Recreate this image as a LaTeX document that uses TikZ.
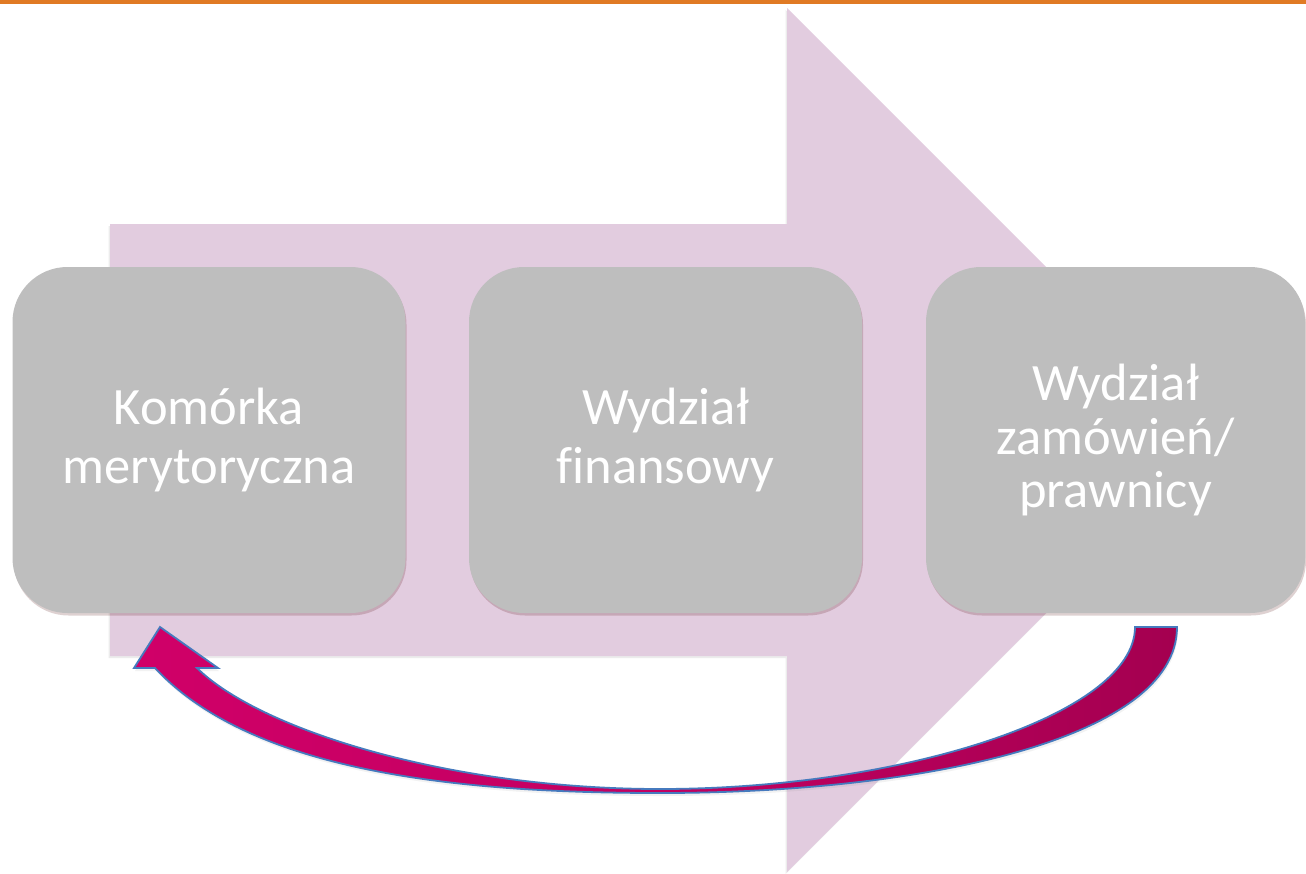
\documentclass[tikz,border=0pt]{standalone}
\usepackage{fontspec}
\setmainfont{Carlito}[Ligatures=NoCommon]
\usetikzlibrary{shadows}
\definecolor{topbar}{RGB}{224,122,36}
\definecolor{bigarrow}{RGB}{226,204,223}
\definecolor{boxgray}{RGB}{190,190,190}
\definecolor{cpink}{RGB}{208,0,104}
\definecolor{cdark}{RGB}{164,0,80}
\definecolor{cblue}{RGB}{70,122,190}
\tikzset{
  stagebox/.style={fill=boxgray, draw=none, rounded corners=55pt,
    minimum width=393pt, minimum height=346pt, inner sep=0pt,
    text=white, align=center,
    drop shadow={shadow xshift=1pt, shadow yshift=-2.5pt, opacity=0.18, fill=black!70!red}},
  bigtxt/.style={font=\fontsize{52.5}{59}\selectfont},
  smalltxt/.style={font=\fontsize{52.5}{53.5}\selectfont},
  returnarrow/.style={draw=cblue, line width=1.8pt, line join=miter,
    left color=cpink, right color=cdark, middle color=cpink!70!cdark},
}
\begin{document}
\begin{tikzpicture}[x=1pt, y=-1pt]
\useasboundingbox (0,0) rectangle (1306,873);
\fill[white] (0,0) rectangle (1306,873);
% top orange bar
\fill[topbar] (0,0) rectangle (1306,3.5);
% big background arrow
\fill[bigarrow, drop shadow={shadow xshift=-1.5pt, shadow yshift=-2pt, opacity=0.15}]
  (110,224) -- (787,224) -- (787,8) -- (1219,440) -- (787,872) -- (787,656) -- (110,656) -- cycle;
% boxes
\node[stagebox, bigtxt] (b1) at (209,440) {Komórka\\merytoryczna};
\node[stagebox, bigtxt] (b2) at (665.5,440) {Wydział\\finansowy};
\node[stagebox, smalltxt, minimum width=379pt] (b3) at (1115.5,440) {Wydział\\zamówień/\\prawnicy};
% curved return arrow
\coordinate (tip) at (160,627);
\coordinate (tailL) at (1135,627);
\coordinate (tailR) at (1177,627);
\path[returnarrow, drop shadow={shadow xshift=1pt, shadow yshift=-3pt, opacity=0.1}]
  (tip) -- (218,668) -- (197,668)
  .. controls (260,730) and (450,789) .. (660,789)
  .. controls (900,789) and (1135,715) .. (tailL)
  -- (tailR)
  .. controls (1177,740) and (920,793) .. (660,793)
  .. controls (450,793) and (250,770) .. (155,668)
  -- (134,668) -- cycle;
\end{tikzpicture}
\end{document}
